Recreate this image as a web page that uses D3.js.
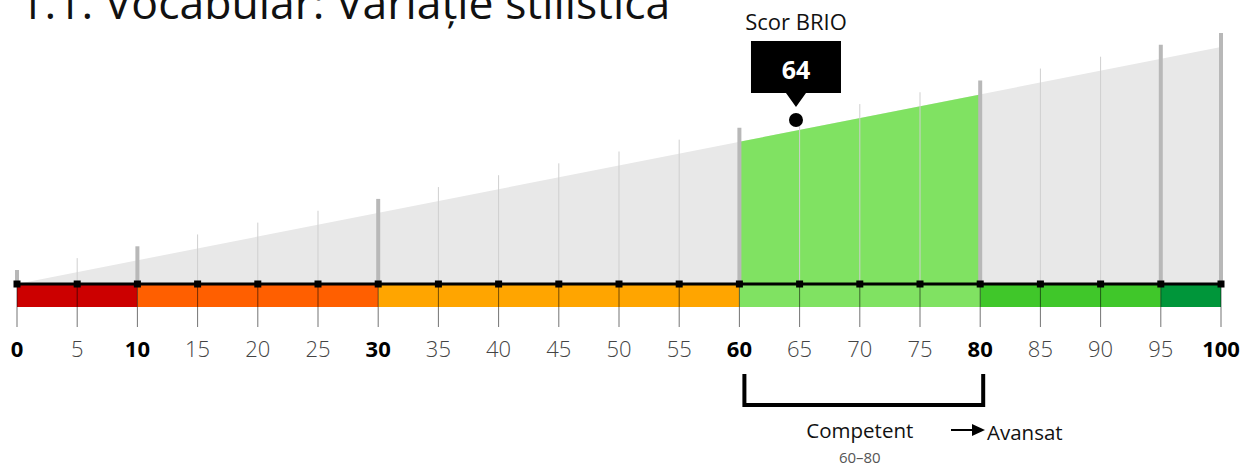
<!DOCTYPE html>
<html lang="ro">
<head>
    <meta charset="UTF-8">
    <title>BRIO - Vocabular</title>
    <script src="https://cdnjs.cloudflare.com/ajax/libs/d3/7.8.5/d3.min.js"></script>
    <style>
        body { margin: 0; background: #fff; font-family: "Open Sans", sans-serif; overflow: hidden; }
        svg { display: block; }
    </style>
</head>
<body>
    <div id="chart"></div>
    <script>
        // Data
        const titleText = "1.1. Vocabular: Variație stilistică";
        const tickValues = [0, 5, 10, 15, 20, 25, 30, 35, 40, 45, 50, 55, 60, 65, 70, 75, 80, 85, 90, 95, 100];
        const boldTicks = [0, 10, 30, 60, 80, 100];
        const thickLines = [0, 10, 30, 60, 80, 95, 100];
        const bandStarts = [0, 10, 30, 60, 80, 95];
        const bandEnds = [10, 30, 60, 80, 95, 100];
        const bandColors = ["#cc0000", "#ff5f00", "#ffa500", "#80e262", "#40c72a", "#00963a"];
        const score = 64.7;
        const scoreLabel = "64";
        const levelRange = [60, 80];
        const levelName = "Competent";
        const levelRangeLabel = "60–80";
        const nextLevel = "Avansat";

        const width = 1242, height = 468;
        const axisY = 284;

        const svg = d3.select("#chart").append("svg")
            .attr("width", width)
            .attr("height", height);

        const x = d3.scaleLinear().domain([0, 100]).range([17, 1221]);
        // wedge height grows with value
        const yW = d3.scaleLinear().domain([0, 100]).range([axisY, 47]);

        // title (partly above the page, as in the original)
        svg.append("text")
            .attr("x", 19)
            .attr("y", 19)
            .attr("font-size", 44.5)
            .attr("font-weight", 400)
            .attr("fill", "#111")
            .text(titleText);

        // grey wedge
        const area = d3.area()
            .x(d => x(d))
            .y0(axisY)
            .y1(d => yW(d));
        svg.append("path")
            .datum([0, 100])
            .attr("d", area)
            .attr("fill", "#e8e8e8");

        // level wedge
        svg.append("path")
            .datum(levelRange)
            .attr("d", area)
            .attr("fill", "#80e262");

        // vertical guide lines
        svg.selectAll(".guide")
            .data(tickValues)
            .join("line")
            .attr("x1", d => x(d))
            .attr("x2", d => x(d))
            .attr("y1", axisY)
            .attr("y2", d => yW(d) - 14)
            .attr("stroke", d => thickLines.includes(d) ? "#b8b8b8" : "#cfcfcf")
            .attr("stroke-width", d => thickLines.includes(d) ? 4 : 1);

        // colour bands
        svg.selectAll(".band")
            .data(bandStarts)
            .join("rect")
            .attr("x", (d, i) => x(d))
            .attr("y", axisY + 1)
            .attr("width", (d, i) => x(bandEnds[i]) - x(d))
            .attr("height", 22)
            .attr("fill", (d, i) => bandColors[i]);

        // tick lines below
        svg.selectAll(".tick")
            .data(tickValues)
            .join("line")
            .attr("x1", d => x(d))
            .attr("x2", d => x(d))
            .attr("y1", axisY)
            .attr("y2", 327)
            .attr("stroke", "rgba(0,0,0,0.55)")
            .attr("stroke-width", 1);

        // axis line
        svg.append("line")
            .attr("x1", x(0))
            .attr("x2", x(100))
            .attr("y1", axisY)
            .attr("y2", axisY)
            .attr("stroke", "#000")
            .attr("stroke-width", 3);

        // squares on axis
        svg.selectAll(".sq")
            .data(tickValues)
            .join("rect")
            .attr("x", d => x(d) - 3.5)
            .attr("y", axisY - 3.5)
            .attr("width", 7)
            .attr("height", 7)
            .attr("fill", "#000");

        // tick labels
        svg.selectAll(".lbl")
            .data(tickValues)
            .join("text")
            .attr("x", d => x(d))
            .attr("y", 357)
            .attr("text-anchor", "middle")
            .attr("font-size", 22)
            .attr("font-weight", d => boldTicks.includes(d) ? 700 : 300)
            .attr("fill", d => boldTicks.includes(d) ? "#000" : "#444")
            .text(d => d);

        // score marker
        const sx = x(score);
        svg.append("circle")
            .attr("cx", sx)
            .attr("cy", 120)
            .attr("r", 7)
            .attr("fill", "#000");

        svg.append("path")
            .attr("d", `M${sx - 45},41 H${sx + 45} V93 H${sx + 10} L${sx},107 L${sx - 10},93 H${sx - 45} Z`)
            .attr("fill", "#000");

        svg.append("text")
            .attr("x", sx)
            .attr("y", 79)
            .attr("text-anchor", "middle")
            .attr("font-size", 25)
            .attr("font-weight", 700)
            .attr("fill", "#fff")
            .text(scoreLabel);

        svg.append("text")
            .attr("x", sx)
            .attr("y", 30)
            .attr("text-anchor", "middle")
            .attr("font-size", 22)
            .attr("fill", "#111")
            .text("Scor BRIO");

        // level bracket
        const bx1 = x(levelRange[0]) + 5, bx2 = x(levelRange[1]) + 3;
        svg.append("path")
            .attr("d", `M${bx1},374 V405 H${bx2} V374`)
            .attr("fill", "none")
            .attr("stroke", "#000")
            .attr("stroke-width", 4);

        const mid = x((levelRange[0] + levelRange[1]) / 2);
        svg.append("text")
            .attr("x", mid)
            .attr("y", 438)
            .attr("text-anchor", "middle")
            .attr("font-size", 20.5)
            .attr("fill", "#111")
            .text(levelName);

        svg.append("text")
            .attr("x", mid)
            .attr("y", 463)
            .attr("text-anchor", "middle")
            .attr("font-size", 15)
            .attr("fill", "#555")
            .text(levelRangeLabel);

        // next level arrow
        svg.append("line")
            .attr("x1", 951)
            .attr("x2", 975)
            .attr("y1", 430)
            .attr("y2", 430)
            .attr("stroke", "#000")
            .attr("stroke-width", 2);
        svg.append("path")
            .attr("d", "M972,424 L985,430 L972,436 Z")
            .attr("fill", "#000");

        svg.append("text")
            .attr("x", 987)
            .attr("y", 440)
            .attr("font-size", 20.5)
            .attr("fill", "#111")
            .text(nextLevel);
    </script>
</body>
</html>
